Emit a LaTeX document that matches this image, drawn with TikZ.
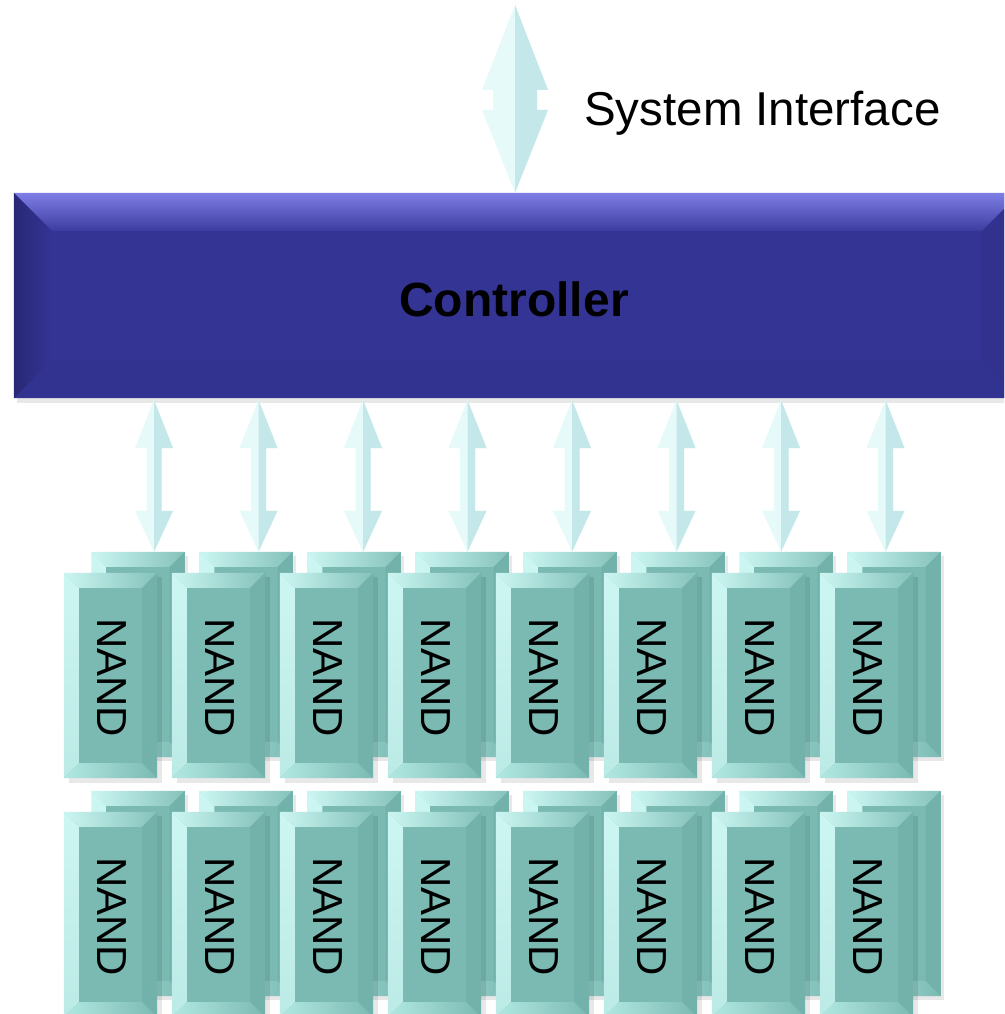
\documentclass[tikz,border=0pt]{standalone}
\usepackage{fontspec}
\setmainfont{Liberation Sans}
\usepackage{graphicx}
\usetikzlibrary{calc}

% controller palette
\definecolor{ctrlface}{RGB}{52,52,148}
\definecolor{ctrltopA}{RGB}{126,126,230}
\definecolor{ctrltopB}{RGB}{60,60,160}
\definecolor{ctrlleftA}{RGB}{40,40,118}
\definecolor{ctrlright}{RGB}{50,50,142}
\definecolor{ctrlbot}{RGB}{50,50,144}
% flash chip palette
\definecolor{chipface}{RGB}{122,186,178}
\definecolor{chiplight}{RGB}{204,246,242}
\definecolor{chiptopB}{RGB}{132,194,186}
\definecolor{chipright}{RGB}{114,178,170}
\definecolor{chipbotA}{RGB}{178,232,226}
% link arrows
\definecolor{linkA}{RGB}{230,250,250}
\definecolor{linkB}{RGB}{196,232,234}

\tikzset{
  ctrlbox/.style={fill=ctrlface, inner sep=0pt, minimum width=1006pt, minimum height=205pt},
  chipbox/.style={fill=chipface, inner sep=0pt, minimum width=93pt, minimum height=205pt},
  shade/.style={fill=black, opacity=0.09},
  chiplabel/.style={font=\fontsize{42}{42}\selectfont, text=black},
}

% bevelled edges on a rectangular node: #1 node, #2 bevel, #3..#6 top/left/right/bottom fills
\newcommand\beveledges[6]{%
  \path[#3] (#1.north west) -- (#1.north east) -- ($(#1.north east)+(-#2,#2)$) -- ($(#1.north west)+(#2,#2)$) -- cycle;
  \path[#4] (#1.north west) -- ($(#1.north west)+(#2,#2)$) -- ($(#1.south west)+(#2,-#2)$) -- (#1.south west) -- cycle;
  \path[#5] (#1.north east) -- ($(#1.north east)+(-#2,#2)$) -- ($(#1.south east)+(-#2,-#2)$) -- (#1.south east) -- cycle;
  \path[#6] (#1.south west) -- ($(#1.south west)+(#2,-#2)$) -- ($(#1.south east)+(-#2,-#2)$) -- (#1.south east) -- cycle;
}

% two-headed link between named points #1 (upper) and #2 (lower):
% #3 head half width, #4 shaft half width, #5 upper head length, #6 lower head length
\newcommand\duplexlink[6]{%
  \path[fill=linkA] (#1) -- ($(#1)+(#3,#5)$) -- ($(#1)+(#4,#5)$) -- ($(#2)+(#4,-#6)$) -- ($(#2)+(#3,-#6)$) -- (#2)
     -- ($(#2)+(-#3,-#6)$) -- ($(#2)+(-#4,-#6)$) -- ($(#1)+(-#4,#5)$) -- ($(#1)+(-#3,#5)$) -- cycle;
  \path[fill=linkB] (#1) -- ($(#1)+(#3,#5)$) -- ($(#1)+(#4,#5)$) -- ($(#2)+(#4,-#6)$) -- ($(#2)+(#3,-#6)$) -- (#2) -- cycle;
}

\begin{document}
\begin{tikzpicture}[x=1pt, y=-1pt]
  \useasboundingbox (0,0) rectangle (1004,1014);
  \clip (0,0) rectangle (1004,1014);
  \fill[white] (0,0) rectangle (1004,1014);

  % controller
  \path[shade] (17,197) rectangle (1030,403);
  \node[ctrlbox] (ctrl) at (517,295.5) {};
  \beveledges{ctrl}{38}{top color=ctrltopA, bottom color=ctrltopB}{left color=ctrlleftA, right color=ctrlface}{fill=ctrlright}{fill=ctrlbot}
  \node[font=\fontsize{48}{56}\selectfont\bfseries] (ctrltxt) at (514,299) {Controller};

  % system interface link
  \coordinate (sysA) at (515,5);
  \coordinate (sysB) at (ctrl.north -| sysA);
  \duplexlink{sysA}{sysB}{33}{22}{85}{83}
  \node[anchor=base west, font=\fontsize{47.5}{56}\selectfont, inner sep=0pt] (sysif) at (584,125) {System Interface};

  % two rows of stacked flash packages
  \foreach \r in {0,1}{
    \foreach \k in {0,...,7}{
      \pgfmathsetmacro\bx{138+108*\k}
      \pgfmathsetmacro\by{654.5+239*\r}
      \pgfmathsetmacro\fx{110.5+108*\k}
      \pgfmathsetmacro\fy{675.5+239*\r}
      % rear package
      \path[shade] (\bx-43,\by-99) rectangle (\bx+50,\by+106);
      \node[chipbox] (b\r\k) at (\bx,\by) {};
      \beveledges{b\r\k}{15}{left color=chiplight, right color=chiptopB}{top color=chiplight, bottom color=chiplight!80!chipface}{fill=chipright}{left color=chipbotA, right color=chipface}
      % front package
      \path[shade] (\fx-42,\fy-99) rectangle (\fx+51,\fy+107);
      \node[chipbox] (f\r\k) at (\fx,\fy) {};
      \beveledges{f\r\k}{15}{left color=chiplight, right color=chiptopB}{top color=chiplight, bottom color=chiplight!80!chipface}{fill=chipright}{left color=chipbotA, right color=chipface}
      \node[chiplabel] (t\r\k) at (\fx+1,\fy+2) {\rotatebox{-90}{NAND}};
    }
  }

  % channel links from controller to first row
  \foreach \k in {0,...,7}{
    \pgfmathsetmacro\lx{154+104.5*\k}
    \coordinate (lt\k) at (\lx,400);
    \coordinate (lb\k) at (b0\k.north -| lt\k);
    \duplexlink{lt\k}{lb\k}{19}{7.5}{48}{41}
  }
\end{tikzpicture}
\end{document}
